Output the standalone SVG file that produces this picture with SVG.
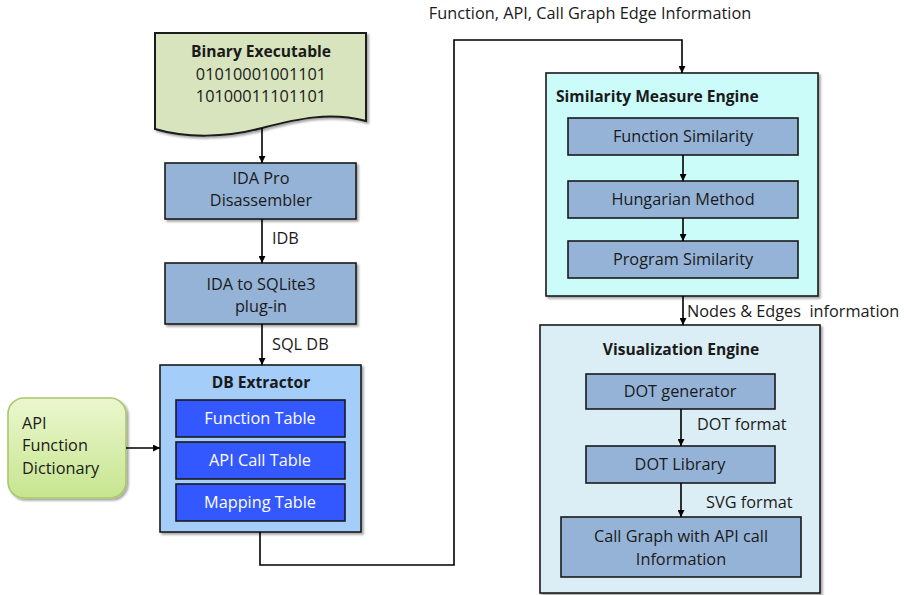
<svg xmlns="http://www.w3.org/2000/svg" width="904" height="595" viewBox="0 0 904 595">
<defs>
<marker id="ah" viewBox="0 0 10 10" refX="10" refY="5" markerWidth="7" markerHeight="7" markerUnits="userSpaceOnUse" orient="auto">
<path d="M0,0 L10,5 L0,10 Z" fill="#000"/>
</marker>
<filter id="sh" x="-10%" y="-10%" width="130%" height="130%">
<feDropShadow dx="2" dy="2" stdDeviation="1.2" flood-color="#000" flood-opacity="0.35"/>
</filter>
<linearGradient id="gg" x1="0" y1="0" x2="0" y2="1">
<stop offset="0" stop-color="#ebf7cf"/>
<stop offset="1" stop-color="#c6e58f"/>
</linearGradient>
</defs>
<style>
text{font-family:"Open Sans","Liberation Sans",Arial,sans-serif;font-size:16.3px;fill:#1a1a1a}
.c{text-anchor:middle}
.b{font-weight:bold;font-size:15.6px}
.w{fill:#fff}
.box{fill:#95b3d7;stroke:#1a1a1a;stroke-width:1.6}
.tbl{fill:#3458ff;stroke:#1a1a1a;stroke-width:1.6}
.ln{fill:none;stroke:#000;stroke-width:1.6}
</style>

<g id="binary">
<path d="M155,33 H366 V121 C330,112 300,118 262,128 C225,138 185,138 155,129 Z" fill="#d7e4bd" stroke="#1a1a1a" stroke-width="2" filter="url(#sh)"/>
<text x="261" y="57" class="c b">Binary Executable</text>
<text x="261" y="80" class="c">01010001001101</text>
<text x="261" y="102" class="c">10100011101101</text>
</g>

<g id="idapro">
<rect x="165" y="163" width="191" height="56" class="box" filter="url(#sh)"/>
<text x="261" y="184" class="c">IDA Pro</text>
<text x="261" y="206" class="c">Disassembler</text>
</g>

<g id="sqlite">
<rect x="165" y="263" width="191" height="61" class="box" filter="url(#sh)"/>
<text x="261" y="290" class="c">IDA to SQLite3</text>
<text x="261" y="312" class="c">plug-in</text>
</g>

<g id="dbextractor">
<rect x="160" y="365" width="201" height="167" fill="#a4cdfa" stroke="#1a1a1a" stroke-width="1.6" filter="url(#sh)"/>
<text x="261" y="388" class="c b">DB Extractor</text>
<rect x="176" y="400" width="169" height="37" class="tbl"/>
<text x="260" y="424" class="c w">Function Table</text>
<rect x="176" y="442" width="169" height="37" class="tbl"/>
<text x="260" y="466" class="c w">API Call Table</text>
<rect x="176" y="484" width="169" height="37" class="tbl"/>
<text x="260" y="508" class="c w">Mapping Table</text>
</g>

<g id="apidict">
<rect x="8" y="398" width="118" height="100" rx="16" fill="url(#gg)" stroke="#a8c86a" stroke-width="1.6" filter="url(#sh)"/>
<text x="22" y="429">API</text>
<text x="22" y="451">Function</text>
<text x="22" y="474">Dictionary</text>
</g>

<g id="similarity">
<rect x="546" y="73" width="272" height="223" fill="#ccfcfa" stroke="#1a1a1a" stroke-width="1.6" filter="url(#sh)"/>
<text x="556" y="102" class="b">Similarity Measure Engine</text>
<rect x="568" y="118" width="230" height="37" class="box"/>
<text x="683" y="142" class="c">Function Similarity</text>
<rect x="568" y="181" width="230" height="37" class="box"/>
<text x="683" y="205" class="c">Hungarian Method</text>
<rect x="568" y="241" width="230" height="37" class="box"/>
<text x="683" y="265" class="c">Program Similarity</text>
</g>

<g id="visualization">
<rect x="540" y="325" width="280" height="268" fill="#dbedf5" stroke="#1a1a1a" stroke-width="1.6" filter="url(#sh)"/>
<text x="681" y="355" class="c b">Visualization Engine</text>
<rect x="586" y="374" width="189" height="35" class="box"/>
<text x="680" y="397" class="c">DOT generator</text>
<rect x="586" y="446" width="189" height="37" class="box"/>
<text x="680" y="470" class="c">DOT Library</text>
<rect x="561" y="517" width="240" height="60" class="box"/>
<text x="681" y="542" class="c">Call Graph with API call</text>
<text x="681" y="565" class="c">Information</text>
</g>

<g id="connectors">
<path d="M262,128 V163" class="ln" marker-end="url(#ah)"/>
<path d="M262,219 V263" class="ln" marker-end="url(#ah)"/>
<text x="272" y="244">IDB</text>
<path d="M262,324 V365" class="ln" marker-end="url(#ah)"/>
<text x="272" y="350">SQL DB</text>
<path d="M126,448 H160" class="ln" marker-end="url(#ah)"/>
<path d="M260,532 V565 H454 V40 H682 V73" class="ln" marker-end="url(#ah)"/>
<text x="590" y="19" class="c">Function, API, Call Graph Edge Information</text>
<path d="M683,155 V181" class="ln" marker-end="url(#ah)"/>
<path d="M683,218 V241" class="ln" marker-end="url(#ah)"/>
<path d="M683,296 V325" class="ln" marker-end="url(#ah)"/>
<text x="687" y="317">Nodes &amp; Edges&#160; information</text>
<path d="M681,409 V446" class="ln" marker-end="url(#ah)"/>
<text x="697" y="430">DOT format</text>
<path d="M681,483 V517" class="ln" marker-end="url(#ah)"/>
<text x="706" y="508">SVG format</text>
</g>
</svg>
